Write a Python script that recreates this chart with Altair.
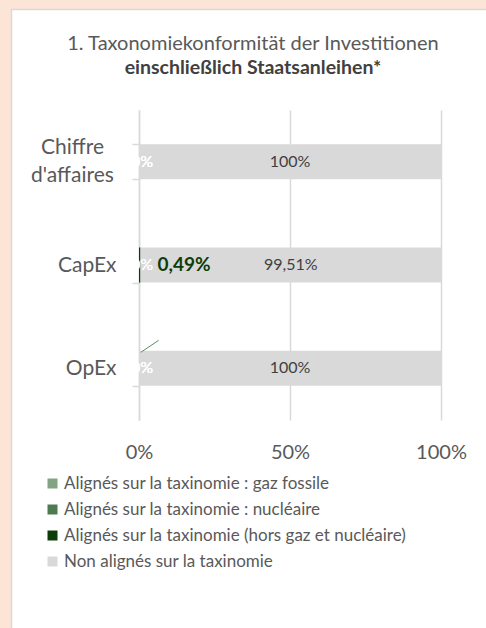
import altair as alt
import pandas as pd

categories = ["Chiffre d'affaires", "CapEx", "OpEx"]
series = [
    "Alignés sur la taxinomie : gaz fossile",
    "Alignés sur la taxinomie : nucléaire",
    "Alignés sur la taxinomie (hors gaz et nucléaire)",
    "Non alignés sur la taxinomie",
]
gaz_fossile = [0, 0, 0]
nucleaire = [0, 0, 0]
hors_gaz_nucl = [0, 0.49, 0]
non_alignes = [100, 99.51, 100]
colors = ["#84a385", "#4d7a50", "#0b3d0b", "#d9d9d9"]
x_ticks = [0, 50, 100]

FONT = "Lato"
GRAY = "#595959"

rows = []
for s_i, (s, vals) in enumerate(zip(series, [gaz_fossile, nucleaire, hors_gaz_nucl, non_alignes])):
    for c, v in zip(categories, vals):
        lab = (f"{v:.2f}".rstrip("0").rstrip(".") if v % 1 else f"{int(v)}").replace(".", ",") + "%"
        rows.append({"cat": c, "series": s, "order": s_i, "value": v, "label": lab})
df = pd.DataFrame(rows)

W, H = 302, 310

yscale = alt.Scale(domain=categories, paddingInner=0.66, paddingOuter=0.33)
xscale = alt.Scale(domain=[0, 100], nice=False)

base = alt.Chart(df)

IS_CA = "datum.value == \"Chiffre d'affaires\""

bars = base.mark_bar(size=35).encode(
    y=alt.Y("cat:N", scale=yscale, sort=categories, title=None,
            axis=alt.Axis(
                tickBand="extent", tickSize=7, tickColor="#d9d9d9", tickWidth=1.5,
                domainColor="#d9d9d9", domainWidth=1.5,
                labelFont=FONT, labelFontSize=21, labelColor=GRAY,
                labelPadding={"condition": {"test": IS_CA, "value": 60}, "value": 16},
                labelAlign={"condition": {"test": IS_CA, "value": "center"}, "value": "right"},
                labelLineHeight=28,
                labelOffset={"condition": {"test": IS_CA, "value": -14}, "value": 0},
                labelExpr="datum.label == \"Chiffre d'affaires\" ? ['Chiffre', \"d'affaires\"] : datum.label",
            )),
    x=alt.X("value:Q", stack="zero", scale=xscale, title=None,
            axis=alt.Axis(values=x_ticks, domain=False, ticks=False, grid=True,
                          gridColor="#d9d9d9", gridWidth=1.5, labelFlush=False,
                          labelFont=FONT, labelFontSize=20, labelColor=GRAY,
                          labelPadding=22, labelExpr="datum.value + '%'")),
    color=alt.Color("series:N", sort=series,
                    scale=alt.Scale(domain=series, range=colors),
                    legend=alt.Legend(title=None, orient="none", legendX=-95, legendY=365,
                                      symbolType="square", symbolSize=100, symbolStrokeWidth=0,
                                      labelFont=FONT, labelFontSize=17, labelColor=GRAY,
                                      rowPadding=8, labelOffset=3, padding=0, labelLimit=400)),
    order=alt.Order("order:Q"),
)

non_df_lbl = base.transform_filter(alt.datum.order == 3).mark_text(
    font=FONT, fontSize=16, color="#404040", baseline="middle"
).encode(
    y=alt.Y("cat:N", scale=yscale, sort=categories),
    x=alt.X("mid:Q", scale=xscale),
    text="label:N",
).transform_calculate(mid="100 - datum.value / 2")

zero_lbl = base.transform_filter((alt.datum.order < 3) & (alt.datum.value == 0)).mark_text(
    font=FONT, fontSize=16, color="white", baseline="middle", dx=3
).encode(
    y=alt.Y("cat:N", scale=yscale, sort=categories),
    x=alt.X("value:Q", scale=xscale),
    text="label:N",
)

green_lbl = base.transform_filter((alt.datum.order == 2) & (alt.datum.value > 0)).mark_text(
    font=FONT, fontSize=19, fontWeight="bold", color="#0b3d0b", baseline="middle", align="left", dx=17
).encode(
    y=alt.Y("cat:N", scale=yscale, sort=categories),
    x=alt.X("value:Q", scale=xscale),
    text="label:N",
)

leader = alt.Chart(pd.DataFrame({"cat": ["OpEx"], "x0": [0.6], "x1": [6.5]})).mark_rule(
    color="#5e8c60", strokeWidth=1, yOffset=-16, y2Offset=-28
).encode(
    y=alt.Y("cat:N", scale=yscale, sort=categories),
    y2="cat:N",
    x=alt.X("x0:Q", scale=xscale),
    x2="x1:Q",
)

PEACH = "#fce4d6"
frame_left = alt.Chart(pd.DataFrame({"k": [0]})).mark_rect(color=PEACH).encode(
    x=alt.value(-139), x2=alt.value(-128), y=alt.value(-110), y2=alt.value(518))
frame_top = alt.Chart(pd.DataFrame({"k": [0]})).mark_rect(color=PEACH).encode(
    x=alt.value(-139), x2=alt.value(347), y=alt.value(-110), y2=alt.value(-101))
border_v = alt.Chart(pd.DataFrame({"k": [0]})).mark_rule(color="#d9d9d9", strokeWidth=1.5).encode(
    x=alt.value(-127.5), y=alt.value(-101), y2=alt.value(518))
border_h = alt.Chart(pd.DataFrame({"k": [0]})).mark_rule(color="#d9d9d9", strokeWidth=1.5).encode(
    x=alt.value(-128), x2=alt.value(347), y=alt.value(-100.5))

chart = alt.layer(frame_left, frame_top, border_v, border_h, bars, non_df_lbl, zero_lbl, green_lbl, leader).properties(
    width=W, height=H,
    title=alt.TitleParams(
        text="1. Taxonomiekonformität der Investitionen",
        subtitle="einschließlich Staatsanleihen*",
        font=FONT, fontSize=20, fontWeight="normal", color=GRAY,
        subtitleFont=FONT, subtitleFontSize=19.5, subtitleFontWeight="bold", subtitleColor="#404040",
        subtitlePadding=5, anchor="middle", dx=-37, dy=77, offset=0,
    ),
    autosize="none",
    padding={"left": 139, "top": 110, "right": 45, "bottom": 208},
    background="white",
).configure_view(stroke=None)

chart.save("out.html", embed_options={"renderer": "svg", "actions": False})
